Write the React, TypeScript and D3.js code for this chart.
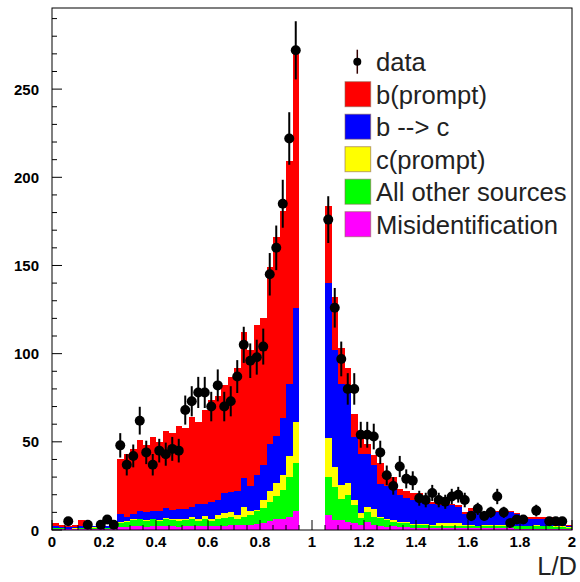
import React from 'react';
import * as d3 from 'd3';

// Histogram binning: 80 bins on [0, 2]
const xLow = 0;
const xHigh = 2;
const nBins = 80;

// MC components per bin (stack order bottom -> top)
const misID = [
  0.5, 0.5, 0.3, 0.3, 0.3, 0.5, 0.3, 0.3, 0.3, 0.5,
  1.5, 1.5, 2, 2, 1.5, 2, 2, 2, 2, 1.5, 2, 2, 2, 2.5, 2, 2.5, 2.5, 3, 3, 3, 3, 3.5, 4, 5.3, 6, 6, 7.5, 11,
  0, 0, 0, 0,
  8.5, 5.7, 5.7, 4.7, 3.8, 2.8, 4.7, 2.8, 2.3, 1.9, 2, 1.5, 1.5, 1.2, 1.2, 1, 1, 1, 1, 1,
  1, 1, 1, 1, 1, 1, 1, 1, 1, 0.8, 0.8, 0.8, 0.8, 0.8, 0.8, 0.8, 0.8, 0.5,
];
const otherSources = [
  0.5, 0.5, 0.5, 0.5, 0.7, 0.5, 0.7, 1.2, 0.7, 0.5,
  2.5, 3, 3.5, 4, 3.5, 4, 3, 4, 3.5, 3.5, 3.5, 4, 3, 4, 3, 3.5, 4.5, 4.5, 3, 4.5, 5.5, 7, 8.5, 10.7, 13, 16.5, 22.5, 27,
  0, 0, 0, 0,
  21.5, 18.9, 11.6, 15.3, 10.4, 4.2, 5.7, 4.8, 4.3, 3.6, 2.7, 2.3, 2.3, 1.6, 1.8, 2, 1.5, 1.5, 1.5, 1.5,
  1.5, 1.5, 1.5, 1, 1.5, 1.5, 1.5, 1.5, 1.5, 1.2, 1.2, 1.2, 1.7, 1.2, 1.2, 0.7, 0.7, 0.7,
];
const cPrompt = [
  0.2, 0, 0, 0.2, 0.2, 0.2, 0.5, 0, 0.2, 0.2,
  0.5, 0.5, 0.5, 0.5, 0.5, 0.5, 0.5, 1, 1, 1, 1, 1.5, 1, 1.5, 1, 2.5, 2.5, 2.5, 2.5, 5.5, 2.5, 1, 4.5, 6, 7.5, 8.5, 12, 23.5,
  0, 0, 0, 0,
  22, 11.4, 8.3, 6.5, 2.8, 2.5, 2.9, 4.2, 1, 0.5, 1, 0.9, 0.9, 0.7, 0.5, 0.5, 0.5, 1.5, 1.5, 1.5,
  1.5, 0.5, 0.5, 0.5, 0.3, 0.5, 0.5, 0.3, 0.3, 0.5, 0.5, 0.3, 0.3, 0.3, 0.3, 0.5, 0.5, 0.3,
];
const bToC = [
  1.3, 0.5, 0.7, 0.5, 0.8, 0.8, 0.5, 0.5, 0.8, 0.3,
  4.5, 2.5, 3, 4, 4.5, 4, 5.5, 5.5, 5, 6, 5.5, 5.5, 8.5, 6.5, 10, 8.5, 11.5, 11.5, 13.5, 16.5, 14, 19.5, 20, 26.5, 27, 32.5, 41, 64.5,
  0, 0, 0, 0,
  88, 66, 57.4, 51.5, 36, 33.5, 29.7, 25.2, 18.4, 19, 17.3, 15.3, 13.3, 13.5, 13.5, 11.5, 12, 10, 10, 10,
  9, 6, 8, 8.5, 6.7, 7, 7, 7.2, 7.2, 6.5, 4, 4.2, 3.7, 4.2, 4.2, 3, 1, 1,
];
const bPrompt = [
  1.5, 1.5, 1, 1.5, 3.5, 1, 0.5, 1, 0.5, 0.5,
  31, 35.5, 37, 40.5, 38, 42.5, 39, 43.5, 43.5, 47, 46, 51, 46.5, 53.5, 58, 59, 61, 65.5, 70, 82.5, 77, 85, 83, 100.5, 112.5, 117.5, 126, 145,
  0, 0, 0, 0,
  44, 30, 20, 14, 13, 10, 6, 5.5, 12, 4, 7, 3, 4, 4, 4, 1, 1, 1.5, 1, 1,
  1.2, 1.4, 1.7, 1.3, 0.9, 1, 0.8, 0.8, 0.8, 0.5, 1.1, 0.7, 1.1, 1.1, 0.7, 0.7, 0.8, 0.3,
];

// Observed counts per bin (null = empty bin, not drawn)
const dataCounts: (number | null)[] = [
  null, null, 5, null, null, 3, null, 3, 6, 3,
  48, 37, 42, 62, 44, 37, 45, 43, 46, 45, 68, 73, 78, 78, 70, 82, 70, 73, 87, 105, 96, 98, 104, 145, 160, 185, 222, 272,
  null, null, null, null,
  176, 126, 97, 80, 80, 54, 54, 53, 44, 31, 25, 36, 29, 28, 18, 17, 21, 17, 16, 19,
  20, 17, 8, 12, 8, 10, 19, 10, 4, 6, 6, null, 11, null, 5, 5, 5, null,
];

const xMajorTicks = [0, 0.2, 0.4, 0.6, 0.8, 1, 1.2, 1.4, 1.6, 1.8, 2];
const yMajorTicks = [0, 50, 100, 150, 200, 250];
const xTitle = 'L/D';

const seriesKeys = ['misID', 'other', 'cPrompt', 'bToC', 'bPrompt'];
const seriesColors: Record<string, string> = {
  misID: '#ff00ff',
  other: '#00ff00',
  cPrompt: '#ffff00',
  bToC: '#0000ff',
  bPrompt: '#ff0000',
};
const legendEntries = [
  { key: 'bPrompt', label: 'b(prompt)' },
  { key: 'bToC', label: 'b --> c' },
  { key: 'cPrompt', label: 'c(prompt)' },
  { key: 'other', label: 'All other sources' },
  { key: 'misID', label: 'Misidentification' },
];

const FONT = '"Liberation Sans", Arial, Helvetica, sans-serif';

export default function App() {
  const W = 580;
  const H = 582;
  const x = d3.scaleLinear().domain([xLow, xHigh]).range([52, 572]);
  const y = d3.scaleLinear().domain([0, 296]).range([530, 8]);
  const bw = (xHigh - xLow) / nBins;

  const rows = d3.range(nBins).map((i) => ({
    misID: misID[i],
    other: otherSources[i],
    cPrompt: cPrompt[i],
    bToC: bToC[i],
    bPrompt: bPrompt[i],
  }));
  const stacked = d3.stack<any>().keys(seriesKeys)(rows);

  const area = d3
    .area<{ e: number; top: number }>()
    .x((d) => x(d.e))
    .y0(y(0))
    .y1((d) => y(d.top))
    .curve(d3.curveStepAfter);

  const layers = stacked
    .map((s) => {
      const pts = s.map((d, i) => ({ e: xLow + i * bw, top: d[1] }));
      pts.push({ e: xHigh, top: s[nBins - 1][1] });
      return { key: s.key, d: area(pts) || '' };
    })
    .reverse();

  const yMinor = d3.range(0, 296, 10);
  const xMinor = d3.range(0, 2.0001, 0.05);

  const legendRowY = (i: number) => 61.7 + 32.5 * i;

  return (
    <svg
      width={W}
      height={H}
      style={{ position: 'absolute', left: 0, top: 0, background: '#fff' }}
      fontFamily={FONT}
    >
      <rect x={0} y={0} width={W} height={H} fill="#fff" />
      {/* stacked histograms, drawn cumulative from zero, top layer first */}
      {layers.map((l) => (
        <path key={l.key} d={l.d} fill={seriesColors[l.key]} stroke="none" shapeRendering="crispEdges" />
      ))}

      {/* frame */}
      <rect x={52} y={8} width={520} height={522} fill="none" stroke="#000" strokeWidth={1} />

      {/* y ticks */}
      {yMinor.map((v) => (
        <line key={'ym' + v} x1={52} x2={v % 50 === 0 ? 62 : 57} y1={y(v)} y2={y(v)} stroke="#000" strokeWidth={1} />
      ))}
      {yMajorTicks.map((v) => (
        <text key={'yl' + v} x={39} y={y(v) + 5.5} textAnchor="end" fontSize={15} fontWeight="bold" fill="#000">
          {v}
        </text>
      ))}

      {/* x ticks */}
      {xMinor.map((v, i) => (
        <line key={'xm' + i} x1={x(v)} x2={x(v)} y1={530} y2={i % 4 === 0 ? 520 : 525} stroke="#000" strokeWidth={1} />
      ))}
      {xMajorTicks.map((v) => (
        <text key={'xl' + v} x={x(v)} y={547} textAnchor="middle" fontSize={15} fontWeight="bold" fill="#000">
          {String(v)}
        </text>
      ))}
      <text x={577} y={575} textAnchor="end" fontSize={25.5} fill="#222">
        {xTitle}
      </text>

      {/* data points */}
      {dataCounts.map((v, i) => {
        if (v === null) return null;
        const cx = x(xLow + (i + 0.5) * bw);
        const err = Math.sqrt(v);
        return (
          <g key={'d' + i}>
            <line x1={cx} x2={cx} y1={y(v - err)} y2={y(v + err)} stroke="#000" strokeWidth={2} />
            <circle cx={cx} cy={y(v)} r={5} fill="#000" />
          </g>
        );
      })}

      {/* legend */}
      <g>
        <line x1={357.3} x2={357.3} y1={legendRowY(0) - 12} y2={legendRowY(0) + 12} stroke="#300" strokeWidth={1.5} />
        <circle cx={357.3} cy={legendRowY(0)} r={4} fill="#000" />
        <text x={376} y={legendRowY(0) + 9.3} fontSize={25.6} fill="#222">
          data
        </text>
        {legendEntries.map((e, i) => (
          <g key={e.key}>
            <rect
              x={345}
              y={legendRowY(i + 1) - 12.5}
              width={25.7}
              height={25}
              fill={seriesColors[e.key]}
              stroke="rgba(140,100,80,0.6)"
              strokeWidth={1}
            />
            <text x={376} y={legendRowY(i + 1) + 9.3} fontSize={25.6} fill="#222">
              {e.label}
            </text>
          </g>
        ))}
      </g>
    </svg>
  );
}
